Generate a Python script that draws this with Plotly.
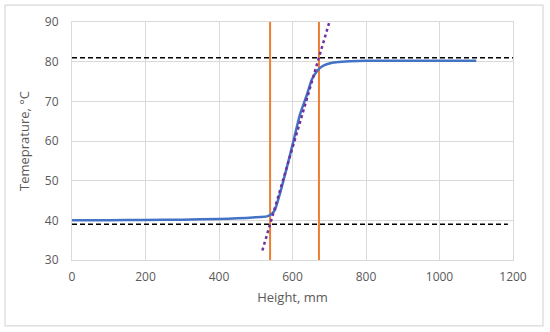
import plotly.graph_objects as go

height_mm = [0, 100, 200, 300, 400, 450, 500, 530, 541, 552, 566, 584, 602, 620, 639, 652, 666, 679, 695, 711, 735, 756, 800, 900, 1000, 1100]
temperature_c = [40.0, 40.05, 40.1, 40.15, 40.35, 40.5, 40.75, 41.0, 41.5, 42.6, 46.8, 53.1, 59.8, 66.6, 71.6, 75.4, 77.5, 78.7, 79.4, 79.8, 80.0, 80.1, 80.2, 80.2, 80.2, 80.2]

tangent_x = [518, 700]
tangent_y = [32.4, 89.9]

upper_level = 81
lower_level = 39
upper_x = [0, 1200]
lower_x = [0, 1186]

vline_x = [539, 672]
y_range = [30, 90]

x_ticks = [0, 200, 400, 600, 800, 1000, 1200]
y_ticks = [30, 40, 50, 60, 70, 80, 90]

fig = go.Figure()

for vx in vline_x:
    fig.add_trace(go.Scatter(x=[vx, vx], y=y_range, mode="lines",
                             line=dict(color="#ED7D31", width=2), showlegend=False, hoverinfo="skip"))

fig.add_trace(go.Scatter(x=upper_x, y=[upper_level, upper_level], mode="lines",
                         line=dict(color="black", width=1.5, dash="5px,3px"), showlegend=False))
fig.add_trace(go.Scatter(x=lower_x, y=[lower_level, lower_level], mode="lines",
                         line=dict(color="black", width=1.5, dash="5px,3px"), showlegend=False))

fig.add_trace(go.Scatter(x=height_mm, y=temperature_c, mode="lines",
                         line=dict(color="#4472C4", width=2.5, shape="spline", smoothing=0.4), showlegend=False))

fig.add_trace(go.Scatter(x=tangent_x, y=tangent_y, mode="lines",
                         line=dict(color="#7030A0", width=2.5, dash="dot"), showlegend=False))

axis_font = dict(family="Open Sans, Liberation Sans, sans-serif", size=12, color="#595959")

fig.update_layout(
    width=550, height=332,
    margin=dict(l=72, r=37, t=22, b=72),
    paper_bgcolor="white", plot_bgcolor="white",
    font=axis_font,
    xaxis=dict(range=[0, 1200], tickvals=x_ticks, showgrid=True, gridcolor="#D9D9D9", gridwidth=1,
               zeroline=False, showline=True, mirror=True, linecolor="#D9D9D9", linewidth=1,
               ticks="", ticklabelstandoff=6,
               title=dict(text="Height, mm", font=dict(size=13, color="#595959"), standoff=8)),
    yaxis=dict(range=y_range, tickvals=y_ticks, showgrid=True, gridcolor="#D9D9D9", gridwidth=1,
               zeroline=False, showline=True, mirror=True, linecolor="#D9D9D9", linewidth=1,
               ticks="", ticklabelstandoff=10,
               title=dict(text="Temeprature, °C", font=dict(size=13, color="#595959"), standoff=12)),
    shapes=[dict(type="rect", xref="paper", yref="paper", x0=-0.152, x1=1.068, y0=-0.277, y1=1.071,
                 line=dict(color="#D9D9D9", width=1.2), layer="above")],
)

fig.write_html("out.html", config={"displayModeBar": False},
               post_script="document.body.style.margin='0';document.body.style.padding='0';")
